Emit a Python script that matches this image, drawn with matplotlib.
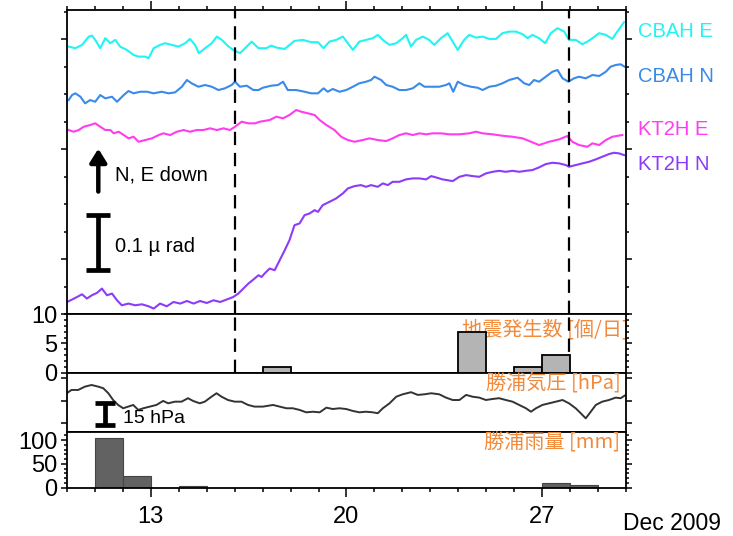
import matplotlib
matplotlib.use("Agg")
import matplotlib.pyplot as plt
from matplotlib.ticker import MultipleLocator, FixedLocator

plt.rcParams['font.family'] = ['Liberation Sans', 'Noto Sans CJK JP', 'DejaVu Sans']

# tilt traces (day of Dec 2009, nrad relative to each trace's offset)
cbah_e_t = [10.06, 10.30, 10.54, 10.78, 10.89, 11.01, 11.19, 11.37, 11.55, 11.73, 11.90, 12.14, 12.38, 12.56,
            12.80, 12.92, 13.10, 13.33, 13.51, 13.75, 13.99, 14.23, 14.40, 14.58, 14.72, 14.94, 15.18, 15.36,
            15.54, 15.78, 15.95, 16.19, 16.43, 16.61, 16.85, 17.13, 17.31, 17.49, 17.79, 18.14, 18.44, 18.74,
            18.98, 19.18, 19.39, 19.63, 19.87, 20.05, 20.23, 20.46, 20.70, 20.94, 21.12, 21.30, 21.54, 21.78,
            22.01, 22.13, 22.31, 22.49, 22.73, 22.96, 23.14, 23.38, 23.62, 23.80, 23.98, 24.21, 24.39, 24.63,
            24.87, 25.11, 25.35, 25.58, 25.82, 26.06, 26.30, 26.48, 26.65, 26.89, 27.11, 27.31, 27.55, 27.79,
            27.96, 28.20, 28.44, 28.62, 28.80, 29.04, 29.28, 29.51, 29.69, 29.93]
cbah_e = [-13.5, -16.4, -10.4, 4.7, 6.6, -1.3, -16.4, 1.8, -7.3, -1.3, -13.5, -19.5, -28.6, -31.7,
          -31.7, -34.6, -16.4, -10.4, -7.3, -10.4, -13.5, -7.3, 0.5, -10.4, -25.5, -16.4, -7.3, 4.7,
          -1.3, -13.5, -19.5, -25.5, -13.5, -4.4, -16.4, -16.4, -11.6, -15.3, -17.7, -3.1, -1.3, -5.5,
          -5.5, -16.4, -4.4, -1.3, 4.7, -7.3, -19.5, -4.4, -1.3, 1.8, 7.8, -1.3, -10.4, -7.3,
          1.8, 7.8, -13.5, -1.3, 4.7, -1.3, -10.4, 1.8, 10.9, -4.4, -19.5, -1.3, 7.8, 2.9,
          4.7, 0.5, 0.5, 10.9, 13.8, 13.8, 9.1, 1.8, 7.8, 1.8, -7.3, 10.9, 20.0, 13.8,
          -1.3, -1.3, -9.1, -4.4, 1.8, 10.9, 7.8, 0.5, 13.8, 30.9]

cbah_n_t = [10.06, 10.18, 10.30, 10.48, 10.65, 10.83, 11.01, 11.19, 11.37, 11.61, 11.79, 12.03, 12.20, 12.38,
            12.62, 12.86, 13.10, 13.39, 13.63, 13.87, 14.11, 14.29, 14.46, 14.70, 14.94, 15.18, 15.42, 15.65,
            15.89, 16.01, 16.19, 16.43, 16.67, 16.85, 17.01, 17.31, 17.55, 17.73, 17.90, 18.20, 18.50, 18.74,
            18.98, 19.18, 19.33, 19.51, 19.75, 19.99, 20.23, 20.46, 20.70, 20.88, 21.00, 21.24, 21.42, 21.65,
            21.89, 22.13, 22.37, 22.61, 22.79, 23.03, 23.32, 23.56, 23.68, 23.82, 23.98, 24.21, 24.45, 24.69,
            24.87, 25.11, 25.35, 25.58, 25.82, 26.12, 26.36, 26.54, 26.71, 26.89, 27.13, 27.37, 27.55, 27.73,
            27.94, 28.14, 28.32, 28.56, 28.80, 29.04, 29.28, 29.45, 29.63, 29.81, 29.95]
cbah_n = [-20.6, -11.5, -8.4, -14.6, -26.6, -20.6, -23.7, -11.5, -17.5, -14.6, -23.7, -11.5, -4.2, -8.4,
          -5.5, -5.5, -8.4, -5.5, -8.4, -6.6, 3.6, 15.8, 9.8, 3.6, 6.7, 3.6, -2.4, 0.7,
          6.7, 12.7, 3.6, 5.5, -2.4, -2.4, 1.8, 5.5, 6.7, 12.7, -2.4, -2.4, -5.5, -8.4,
          -8.4, 0.7, -5.5, -0.5, -5.5, -2.4, 3.6, 9.8, 12.7, 15.8, 21.8, 15.8, 6.7, 3.6,
          -2.4, -2.4, 0.7, 9.8, 3.6, 3.6, 3.6, 6.7, 9.8, -5.5, 12.7, 6.7, 3.6, 1.8,
          -2.4, 3.6, 5.5, 9.8, 15.8, 20.0, 9.8, 6.7, 15.8, 12.7, 21.8, 30.9, 34.0, 18.9,
          12.7, 18.9, 21.8, 18.9, 24.9, 23.1, 30.9, 40.0, 43.1, 44.4, 40.0]

kt2h_e_t = [10.06, 10.24, 10.42, 10.60, 10.83, 11.01, 11.19, 11.37, 11.55, 11.67, 11.85, 12.03, 12.20, 12.38,
            12.56, 12.80, 13.04, 13.28, 13.45, 13.69, 13.93, 14.17, 14.40, 14.64, 14.88, 15.12, 15.36, 15.60,
            15.83, 16.01, 16.25, 16.49, 16.73, 16.90, 17.25, 17.49, 17.73, 17.96, 18.20, 18.38, 18.62, 18.86,
            19.04, 19.28, 19.57, 19.81, 20.05, 20.29, 20.58, 20.82, 21.12, 21.42, 21.65, 21.89, 22.13, 22.37,
            22.61, 22.85, 23.08, 23.38, 23.68, 24.04, 24.39, 24.63, 24.87, 25.23, 25.58, 25.94, 26.30, 26.54,
            26.89, 27.25, 27.61, 27.90, 28.08, 28.32, 28.62, 28.80, 29.04, 29.28, 29.51, 29.87]
kt2h_e = [4.9, 1.8, 4.9, 10.9, 14.0, 17.1, 10.9, 4.9, 4.9, -1.1, 1.8, -4.2, -10.2, -7.3,
          -16.4, -13.3, -10.2, -4.2, -1.1, -4.2, 1.8, 4.9, 1.8, 4.9, 4.9, 8.0, 4.9, 8.0,
          4.9, 10.9, 20.0, 17.1, 17.1, 20.0, 23.1, 29.1, 26.2, 32.2, 41.3, 38.2, 35.3, 32.2,
          23.1, 14.0, 4.9, -7.3, -13.3, -16.4, -13.3, -10.2, -13.3, -15.1, -10.2, -4.2, -1.1, -4.2,
          -1.1, -2.9, -1.1, -1.1, -2.9, -2.9, -1.1, 1.8, -1.1, -2.9, -5.5, -7.3, -10.2, -15.1,
          -22.4, -16.4, -12.0, -6.0, -16.4, -22.4, -25.5, -19.3, -22.4, -13.3, -7.3, -4.2]

kt2h_n_t = [10.00, 10.18, 10.36, 10.54, 10.71, 10.89, 11.07, 11.25, 11.43, 11.61, 11.79, 11.96, 12.20, 12.44,
            12.68, 12.92, 13.10, 13.33, 13.57, 13.81, 14.05, 14.29, 14.53, 14.76, 15.00, 15.24, 15.48, 15.71,
            15.95, 16.13, 16.31, 16.49, 16.67, 16.85, 16.96, 17.07, 17.25, 17.43, 17.61, 17.79, 17.96, 18.14,
            18.32, 18.50, 18.68, 18.86, 18.98, 19.15, 19.39, 19.63, 19.87, 20.05, 20.29, 20.52, 20.70, 20.88,
            21.12, 21.30, 21.48, 21.65, 21.89, 22.13, 22.37, 22.61, 22.85, 23.03, 23.20, 23.44, 23.80, 24.04,
            24.28, 24.51, 24.75, 24.99, 25.23, 25.46, 25.70, 25.94, 26.18, 26.42, 26.65, 26.89, 27.13, 27.37,
            27.61, 27.85, 27.96, 28.20, 28.44, 28.68, 28.92, 29.15, 29.39, 29.57, 29.75, 29.93]
kt2h_n = [22.4, 26.8, 31.5, 36.4, 28.6, 34.6, 38.8, 46.8, 34.6, 37.7, 25.5, 16.4, 19.5, 16.4,
          18.2, 14.6, 10.4, 19.5, 14.6, 22.4, 19.5, 24.2, 19.5, 24.2, 20.6, 25.5, 22.4, 26.8,
          31.5, 37.7, 46.8, 55.9, 63.2, 71.0, 67.9, 74.1, 83.2, 80.1, 98.3, 116.5, 134.7, 162.0,
          165.1, 180.2, 183.3, 189.3, 186.2, 198.4, 204.4, 210.6, 219.7, 228.8, 233.0, 234.8, 231.7, 234.8,
          231.7, 237.9, 234.8, 240.8, 240.8, 245.2, 247.0, 247.0, 245.2, 251.2, 248.8, 245.2, 242.1, 249.9,
          253.0, 251.2, 249.9, 256.1, 259.0, 260.8, 259.0, 260.8, 259.0, 260.8, 262.1, 267.0, 273.0, 275.4,
          274.3, 271.2, 268.1, 271.2, 274.3, 277.2, 281.6, 286.3, 291.2, 293.6, 292.5, 289.4]

trace_names = ["CBAH E", "CBAH N", "KT2H E", "KT2H N"]
trace_offsets = [500, 410, 330, 0]
trace_colors = ["#22f4f4", "#3a8ae8", "#ff3cf0", "#8c3cf8"]

# daily earthquake counts
eq_days = [17, 24, 26, 27]
eq_counts = [1, 7, 1, 3]

# Katsuura air pressure (hPa)
pres_t = [9.99, 10.16, 10.40, 10.64, 10.88, 11.12, 11.30, 11.48, 11.65, 11.83, 12.01, 12.19, 12.37, 12.55,
          12.73, 12.96, 13.20, 13.44, 13.62, 13.86, 14.10, 14.33, 14.51, 14.75, 14.93, 15.17, 15.35, 15.53,
          15.76, 16.00, 16.24, 16.48, 16.71, 17.01, 17.37, 17.61, 17.85, 18.08, 18.32, 18.56, 18.80, 19.04,
          19.28, 19.51, 19.75, 19.99, 20.23, 20.46, 20.70, 20.94, 21.12, 21.30, 21.54, 21.78, 22.01, 22.31,
          22.55, 22.79, 23.03, 23.32, 23.56, 23.80, 24.04, 24.28, 24.51, 24.75, 24.99, 25.23, 25.46, 25.70,
          25.94, 26.18, 26.42, 26.60, 26.78, 27.01, 27.25, 27.49, 27.73, 27.96, 28.20, 28.38, 28.56, 28.74,
          28.92, 29.15, 29.39, 29.63, 29.81, 29.95]
pres = [1020.1, 1022.3, 1022.3, 1024.5, 1025.6, 1024.5, 1023.4, 1020.1, 1015.6, 1012.3, 1010.1, 1011.2, 1012.3, 1009.0,
        1010.1, 1011.2, 1012.3, 1015.0, 1013.4, 1014.5, 1014.5, 1016.8, 1015.0, 1013.4, 1014.5, 1017.8, 1020.1, 1017.8,
        1015.6, 1014.5, 1014.5, 1012.3, 1011.2, 1011.2, 1012.3, 1011.2, 1010.1, 1010.1, 1009.0, 1007.4, 1007.8, 1007.4,
        1010.5, 1009.6, 1010.1, 1009.6, 1008.3, 1007.4, 1007.8, 1007.4, 1006.8, 1010.1, 1013.4, 1017.8, 1019.4, 1020.8,
        1019.0, 1019.4, 1020.1, 1019.4, 1017.2, 1015.6, 1015.6, 1019.0, 1017.8, 1017.2, 1015.6, 1016.3, 1016.8, 1015.6,
        1014.5, 1012.3, 1010.1, 1007.8, 1010.1, 1012.3, 1013.4, 1014.5, 1015.6, 1013.4, 1010.1, 1006.8, 1003.4, 1007.8,
        1012.3, 1014.5, 1015.6, 1017.2, 1016.8, 1018.5]

# Katsuura daily rainfall (mm)
rain_days = [11, 12, 14, 27, 28]
rain_mm = [105, 25, 4, 10, 5]

event_days = [16.0, 27.95]

ORANGE = '#f28a3c'
JP = ['Noto Sans CJK JP', 'Liberation Sans']

fig = plt.figure(figsize=(7.33, 5.36), dpi=100)
L, W = 0.0914, 0.7626
ax_tilt = fig.add_axes([L, 0.4136, W, 0.5677])
ax_eq = fig.add_axes([L, 0.3047, W, 0.1089])
ax_p = fig.add_axes([L, 0.1946, W, 0.1101])
ax_r = fig.add_axes([L, 0.0901, W, 0.1045])
axes = [ax_tilt, ax_eq, ax_p, ax_r]

for ax in axes:
    ax.set_xlim(10, 30)
    for s in ax.spines.values():
        s.set_linewidth(1.3)
    ax.xaxis.set_major_locator(FixedLocator([13, 20, 27]))
    ax.xaxis.set_minor_locator(MultipleLocator(1))
    ax.tick_params(axis='x', which='both', bottom=False, top=False, labelbottom=False, labeltop=False,
                   direction='out', width=1.1)
    ax.tick_params(axis='x', which='major', length=6.5)
    ax.tick_params(axis='x', which='minor', length=3)
    ax.tick_params(axis='y', which='both', left=True, right=True, labelleft=False, direction='out',
                   width=1.1, labelsize=17, pad=2.5)
    ax.tick_params(axis='y', which='major', length=4.5)
    ax.tick_params(axis='y', which='minor', length=2.2)

# tilt panel
for t, v, off, c in zip([cbah_e_t, cbah_n_t, kt2h_e_t, kt2h_n_t], [cbah_e, cbah_n, kt2h_e, kt2h_n],
                        trace_offsets, trace_colors):
    ax_tilt.plot(t, [off + x for x in v], color=c, lw=1.5)
label_y = [0.931, 0.781, 0.606, 0.491]
for name, c, y in zip(trace_names, trace_colors, label_y):
    ax_tilt.text(1.021, y, name, color=c, fontsize=14.5, transform=ax_tilt.transAxes, va='center', ha='left')
ax_tilt.set_ylim(0, 553)
ax_tilt.yaxis.set_major_locator(FixedLocator([100, 300, 500]))
ax_tilt.yaxis.set_minor_locator(MultipleLocator(50))
ax_tilt.tick_params(axis='x', which='both', top=True)

ax_tilt.annotate("", xy=(11.12, 306), xytext=(11.12, 218),
                 arrowprops=dict(arrowstyle="-|>,head_width=0.5,head_length=0.8", color='black', lw=3.2))
ax_tilt.text(11.72, 254, "N, E down", fontsize=14.5, va='center')
ax_tilt.errorbar([11.12], [130], yerr=[50], fmt='none', ecolor='black', elinewidth=3.4, capsize=8.5,
                 capthick=3.4)
ax_tilt.text(11.72, 124, "0.1 µ rad", fontsize=14.5, va='center')

# earthquake panel
ax_eq.bar(eq_days, eq_counts, width=1, align='edge', color='#b4b4b4', edgecolor='black', lw=1.3, zorder=3)
ax_eq.set_ylim(0, 10)
ax_eq.yaxis.set_major_locator(FixedLocator([0, 5, 10]))
ax_eq.yaxis.set_minor_locator(MultipleLocator(1))
ax_eq.tick_params(axis='y', labelleft=True)
ax_eq.text(1.005, 0.73, "地震発生数 [個/日]", color=ORANGE, fontsize=14.5, transform=ax_eq.transAxes,
           ha='right', va='center', family=JP, zorder=2)

for d in event_days:
    ax_tilt.axvline(d, color='black', lw=1.6, ls=(0, (6, 3.5)))
    ax_eq.axvline(d, color='black', lw=1.6, ls=(0, (6, 3.5)))

# pressure panel
ax_p.plot(pres_t, pres, color='#333333', lw=1.4)
ax_p.set_ylim(994.5, 1033.8)
ax_p.yaxis.set_major_locator(FixedLocator([1000, 1015, 1030]))
ax_p.yaxis.set_minor_locator(FixedLocator([]))
ax_p.errorbar([11.36], [1006.2], yerr=[7.5], fmt='none', ecolor='black', elinewidth=3.4, capsize=7,
              capthick=3.4)
ax_p.text(12.0, 1003.5, "15 hPa", fontsize=14, va='center')
ax_p.text(0.99, 0.825, "勝浦気圧 [hPa]", color=ORANGE, fontsize=14.5, transform=ax_p.transAxes,
          ha='right', va='center', family=JP)

# rain panel
ax_r.bar(rain_days, rain_mm, width=1, align='edge', color='#626262', edgecolor='#454545', lw=0.8)
ax_r.set_ylim(0, 118)
ax_r.yaxis.set_major_locator(FixedLocator([0, 50, 100]))
ax_r.yaxis.set_minor_locator(MultipleLocator(10))
ax_r.tick_params(axis='y', labelleft=True)
ax_r.tick_params(axis='x', which='both', bottom=True, labelbottom=True, labelsize=17, pad=7)
ax_r.text(0.99, 0.793, "勝浦雨量 [mm]", color=ORANGE, fontsize=14.5, transform=ax_r.transAxes,
          ha='right', va='center', family=JP)

fig.text(0.917, 0.024, "Dec 2009", fontsize=16.5, ha='center', va='center')

fig.savefig("out.png", dpi=100)
